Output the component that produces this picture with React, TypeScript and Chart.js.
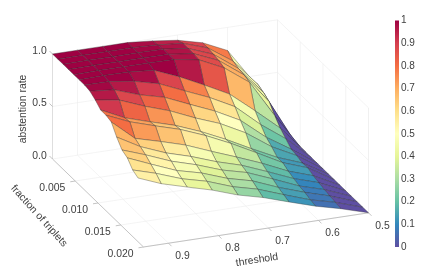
import React, { useEffect, useRef } from "react";
import { Chart, registerables } from "chart.js";

Chart.register(...registerables);

const thresholds = [0.5, 0.55, 0.6, 0.65, 0.7, 0.75, 0.8, 0.85, 0.9, 0.95];
const fractions = [0, 0.00125, 0.0025, 0.00375, 0.005, 0.00625, 0.0075, 0.00875, 0.01, 0.01125, 0.0125, 0.01375, 0.015, 0.01625, 0.0175, 0.01875, 0.02];
const fractionScale = [1, 0.97, 0.97, 0.95, 0.94, 0.94, 0.93, 0.93, 0.92, 0.94];
const z050 = [0, 0, 0, 0, 0, 0, 0, 0, 0, 0, 0, 0, 0, 0, 0, 0, 0];
const z055 = [0.46, 0.47, 0.445, 0.41, 0.33, 0.26, 0.21, 0.16, 0.15, 0.13, 0.135, 0.11, 0.095, 0.08, 0.07, 0.06, 0.05];
const z060 = [0.78, 0.73, 0.71, 0.7, 0.68, 0.46, 0.38, 0.31, 0.27, 0.22, 0.22, 0.19, 0.17, 0.15, 0.14, 0.12, 0.11];
const z065 = [0.89, 0.89, 0.88, 0.87, 0.85, 0.65, 0.58, 0.5, 0.43, 0.33, 0.34, 0.29, 0.26, 0.24, 0.21, 0.19, 0.17];
const z070 = [0.95, 0.97, 0.97, 0.97, 0.96, 0.77, 0.7, 0.62, 0.55, 0.45, 0.46, 0.38, 0.35, 0.33, 0.3, 0.27, 0.24];
const z075 = [0.98, 0.99, 1, 1, 1, 0.885, 0.8, 0.72, 0.64, 0.56, 0.57, 0.47, 0.42, 0.39, 0.36, 0.33, 0.3];
const z080 = [1, 1, 1, 1, 1, 0.98, 0.9, 0.82, 0.74, 0.65, 0.66, 0.56, 0.5, 0.47, 0.44, 0.41, 0.375];
const z085 = [1, 1, 1, 1, 1, 1, 0.96, 0.88, 0.82, 0.72, 0.73, 0.63, 0.57, 0.54, 0.5, 0.47, 0.44];
const z090 = [1, 1, 1, 1, 1, 1, 0.99, 0.96, 0.91, 0.79, 0.8, 0.69, 0.66, 0.63, 0.59, 0.55, 0.5];
const z095 = [1, 1, 1, 1, 1, 1, 1, 0.99, 0.956, 0.91, 0.91, 0.894, 0.8, 0.726, 0.7, 0.634, 0.607];
const surface = [z050, z055, z060, z065, z070, z075, z080, z085, z090, z095];

const thresholdTicks = [0.9, 0.8, 0.7, 0.6, 0.5];
const fractionTicks = [0.005, 0.01, 0.015, 0.02];
const fractionTickLabels = ["0.005", "0.010", "0.015", "0.020"];
const zTicks = [0, 0.5, 1];
const zTickLabels = ["0.0", "0.5", "1.0"];
const colorbarTicks = [0, 0.1, 0.2, 0.3, 0.4, 0.5, 0.6, 0.7, 0.8, 0.9, 1];
const colorbarLabels = ["0", "0.1", "0.2", "0.3", "0.4", "0.5", "0.6", "0.7", "0.8", "0.9", "1"];
const spectral = ["#5e4fa2", "#3288bd", "#66c2a5", "#abdda4", "#e6f598", "#ffffbf", "#fee08b", "#fdae61", "#f46d43", "#d53e4f", "#9e0142"];

const T_MAX = 0.95, T_MIN = 0.5, F_MAX = 0.02;

const px = (t: number, f: number) => 52.5 + 4550 * f + 500 * (T_MAX - t);
const py = (t: number, f: number, z: number) => 159 + 4400 * f - 76 * (T_MAX - t) - 105 * z;
const pt = (t: number, f: number, z: number) => ({ x: px(t, f), y: py(t, f, z) });

function colorFor(v: number) {
  const s = Math.max(0, Math.min(1, v)) * (spectral.length - 1);
  const i = Math.min(spectral.length - 2, Math.floor(s));
  const k = s - i;
  const rgb = (h: string) => [1, 3, 5].map((o) => parseInt(h.slice(o, o + 2), 16));
  const a = rgb(spectral[i]), b = rgb(spectral[i + 1]);
  return `rgb(${a.map((c, n) => Math.round(c + (b[n] - c) * k)).join(",")})`;
}

function lineSet(a: { x: number; y: number }, b: { x: number; y: number }, color: string, width = 0.6) {
  return { data: [a, b], showLine: true, borderColor: color, borderWidth: width, pointRadius: 0, fill: false, tension: 0 };
}

function buildDatasets() {
  const grid = "#ececec";
  const axis = "#b5b5b5";
  const out: any[] = [];
  for (const t of thresholdTicks) {
    out.push(lineSet(pt(t, 0, 0), pt(t, F_MAX, 0), grid));
    out.push(lineSet(pt(t, 0, 0), pt(t, 0, 1), grid));
  }
  for (const f of fractionTicks) {
    out.push(lineSet(pt(T_MAX, f, 0), pt(T_MIN, f, 0), grid));
    out.push(lineSet(pt(T_MIN, f, 0), pt(T_MIN, f, 1), grid));
  }
  for (const z of zTicks) {
    out.push(lineSet(pt(T_MAX, 0, z), pt(T_MIN, 0, z), grid));
    out.push(lineSet(pt(T_MIN, 0, z), pt(T_MIN, F_MAX, z), grid));
  }
  out.push(lineSet(pt(T_MIN, 0, 0), pt(T_MIN, 0, 1), grid));
  out.push(lineSet(pt(T_MIN, F_MAX, 0), pt(T_MIN, F_MAX, 1), grid));
  out.push(lineSet(pt(T_MAX, 0, 0), pt(T_MAX, 0, 1), "#d0d0d0", 0.7));
  out.push(lineSet(pt(T_MAX, 0, 0), pt(T_MAX, F_MAX, 0), axis, 0.8));
  out.push(lineSet(pt(T_MAX, F_MAX, 0), pt(T_MIN, F_MAX, 0), axis, 0.8));
  for (const t of thresholdTicks) {
    const p = pt(t, F_MAX, 0);
    out.push(lineSet(p, { x: p.x + 3, y: p.y + 3 }, axis, 0.8));
  }
  for (const f of fractionTicks) {
    const p = pt(T_MAX, f, 0);
    out.push(lineSet(p, { x: p.x - 5, y: p.y + 0.8 }, axis, 0.8));
  }
  for (const z of zTicks) {
    const p = pt(T_MAX, 0, z);
    out.push(lineSet(p, { x: p.x - 3, y: p.y - 3 }, axis, 0.8));
  }

  const quads: { d: number; ds: any }[] = [];
  const at = (i: number, j: number) => pt(thresholds[i], fractions[j] * fractionScale[i], surface[i][j]);
  for (let i = 0; i < thresholds.length - 1; i++) {
    for (let j = 0; j < fractions.length - 1; j++) {
      const a = at(i, j), b = at(i + 1, j), c = at(i + 1, j + 1), d = at(i, j + 1);
      const t0 = thresholds[i], t1 = thresholds[i + 1], f0 = fractions[j], f1 = fractions[j + 1];
      quads.push({
        d: py((t0 + t1) / 2, (f0 + f1) / 2, 0),
        ds: {
          data: [a, b, c, d, a],
          showLine: true,
          fill: "shape",
          backgroundColor: colorFor(surface[i][j]),
          borderColor: "rgba(45,45,45,0.6)",
          borderWidth: 0.6,
          pointRadius: 0,
          tension: 0,
        },
      });
    }
  }
  quads.sort((q, r) => q.d - r.d);
  for (const q of quads) out.push(q.ds);
  return out.reverse();
}

const textPlugin = {
  id: "labels3d",
  afterDraw(chart: any) {
    const { ctx, scales } = chart;
    const X = (v: number) => scales.x.getPixelForValue(v);
    const Y = (v: number) => scales.y.getPixelForValue(v);
    const font = '10.4px "Liberation Sans", Arial, sans-serif';
    const ink = "#404040";
    ctx.save();
    ctx.fillStyle = ink;
    ctx.font = font;
    ctx.textBaseline = "middle";
    ctx.textAlign = "center";
    zTicks.forEach((z, i) => {
      const p = pt(T_MAX, 0, z);
      ctx.fillText(zTickLabels[i], X(p.x - 13), Y(p.y - 3));
    });
    fractionTicks.forEach((f, i) => {
      const p = pt(T_MAX, f, 0);
      ctx.fillText(fractionTickLabels[i], X(p.x - 23), Y(p.y + 7));
    });
    thresholdTicks.forEach((t) => {
      const p = pt(t, F_MAX, 0);
      ctx.fillText(t.toFixed(1), X(p.x + 14), Y(p.y + 13));
    });
    const rotated = (s: string, x: number, y: number, deg: number) => {
      ctx.save();
      ctx.translate(x, y);
      ctx.rotate((deg * Math.PI) / 180);
      ctx.fillText(s, 0, 0);
      ctx.restore();
    };
    rotated("abstention rate", X(23), Y(109), -90);
    rotated("fraction of triplets", X(39), Y(216), 48);
    rotated("threshold", X(257), Y(260), -9);

    const cbTop = Y(20.5), cbBot = Y(247), cbL = X(395), cbR = X(399);
    const grad = ctx.createLinearGradient(0, cbBot, 0, cbTop);
    spectral.forEach((c, i) => grad.addColorStop(i / (spectral.length - 1), c));
    ctx.fillStyle = grad;
    ctx.fillRect(cbL, cbTop, cbR - cbL, cbBot - cbTop);
    ctx.fillStyle = ink;
    ctx.textAlign = "left";
    ctx.font = '10px "Liberation Sans", Arial, sans-serif';
    colorbarTicks.forEach((v, i) => {
      ctx.fillText(colorbarLabels[i], X(401), cbBot + (cbTop - cbBot) * v);
    });
    ctx.restore();
  },
};

export default function App() {
  const ref = useRef<HTMLCanvasElement | null>(null);
  useEffect(() => {
    document.body.style.margin = "0";
    const chart = new Chart(ref.current as HTMLCanvasElement, {
      type: "scatter",
      data: { datasets: buildDatasets() },
      options: {
        animation: false,
        responsive: false,
        events: [],
        layout: { padding: 0 },
        plugins: { legend: { display: false }, tooltip: { enabled: false }, title: { display: false } },
        scales: {
          x: { type: "linear", min: 0, max: 421, display: false },
          y: { type: "linear", min: 0, max: 278, reverse: true, display: false },
        },
      },
      plugins: [textPlugin],
    } as any);
    return () => chart.destroy();
  }, []);
  return <canvas ref={ref} width={421} height={278} style={{ display: "block" }} />;
}
